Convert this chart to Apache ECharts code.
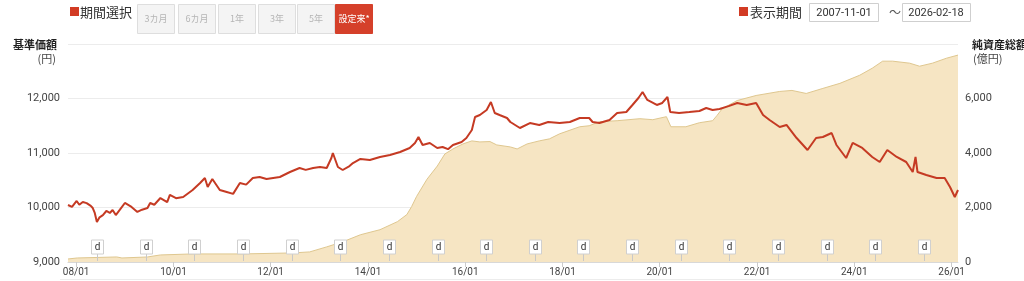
<!DOCTYPE html>
<html><head><meta charset="utf-8">
<script src="https://cdn.jsdelivr.net/npm/echarts@6/dist/echarts.min.js"></script>
<style>html,body{margin:0;padding:0;background:#fff;}#chart{width:1024px;height:281px;}</style>
</head><body><div id="chart"></div>
<script>
// 基準価額 (円)
const navData = [
['2007-11-01',10046],['2007-12-01',10010],['2008-01-05',10120],['2008-01-25',10050],['2008-02-20',10100],
['2008-03-20',10080],['2008-04-20',10030],['2008-05-05',9990],['2008-05-20',9900],['2008-06-05',9735],
['2008-06-25',9820],['2008-07-20',9860],['2008-08-15',9936],['2008-09-10',9900],['2008-10-01',9954],
['2008-10-25',9862],['2008-11-25',9960],['2009-01-01',10083],['2009-02-20',10010],['2009-04-05',9918],
['2009-05-10',9960],['2009-06-20',9990],['2009-07-10',10083],['2009-08-10',10050],['2009-09-25',10174],
['2009-11-15',10100],['2009-12-05',10230],['2010-01-20',10170],['2010-03-15',10193],['2010-05-25',10321],
['2010-07-20',10450],['2010-08-25',10541],['2010-09-15',10376],['2010-10-20',10523],['2010-12-15',10321],
['2011-02-05',10284],['2011-03-25',10250],['2011-05-15',10450],['2011-07-01',10420],['2011-08-20',10541],
['2011-10-10',10560],['2011-12-01',10523],['2012-03-10',10560],['2012-05-25',10651],['2012-08-05',10725],
['2012-09-20',10690],['2012-11-15',10725],['2013-01-05',10743],['2013-02-25',10725],['2013-04-01',10908],
['2013-04-12',11000],['2013-05-20',10743],['2013-06-25',10688],['2013-08-15',10761],['2013-09-10',10816],
['2013-11-05',10890],['2014-01-15',10871],['2014-04-01',10927],['2014-06-15',10963],['2014-08-30',11018],
['2014-11-10',11092],['2014-12-20',11184],['2015-01-15',11294],['2015-02-15',11147],['2015-04-10',11184],
['2015-06-05',11092],['2015-07-15',11110],['2015-08-25',11070],['2015-10-01',11147],['2015-12-05',11202],
['2016-01-10',11275],['2016-02-20',11422],['2016-03-15',11661],['2016-04-20',11697],['2016-06-10',11789],
['2016-07-12',11936],['2016-08-10',11734],['2016-09-15',11697],['2016-11-10',11642],['2016-12-05',11569],
['2017-02-15',11459],['2017-05-01',11550],['2017-07-10',11514],['2017-09-15',11569],['2017-12-10',11550],
['2018-02-25',11569],['2018-05-10',11642],['2018-07-20',11642],['2018-08-15',11569],['2018-10-05',11550],
['2018-12-20',11605],['2019-02-15',11734],['2019-04-25',11752],['2019-06-10',11881],['2019-07-25',12009],
['2019-08-25',12119],['2019-09-30',11973],['2019-12-10',11881],['2020-01-20',11918],['2020-02-28',12028],
['2020-03-20',11752],['2020-05-25',11734],['2020-08-10',11752],['2020-10-25',11771],['2020-12-15',11826],
['2021-02-01',11789],['2021-03-25',11808],['2021-06-01',11860],['2021-08-05',11918],['2021-10-15',11881],
['2021-12-25',11918],['2022-02-15',11697],['2022-04-05',11605],['2022-06-20',11477],['2022-08-10',11514],
['2022-10-25',11275],['2023-01-15',11055],['2023-03-20',11275],['2023-05-10',11294],['2023-07-15',11367],
['2023-08-20',11147],['2023-11-01',10908],['2023-12-20',11184],['2024-03-01',11092],['2024-05-15',10927],
['2024-07-10',10835],['2024-09-05',11055],['2024-11-15',10927],['2025-01-25',10835],['2025-03-15',10651],
['2025-04-05',10927],['2025-04-20',10651],['2025-06-25',10596],['2025-09-10',10541],['2025-11-10',10541],
['2025-12-20',10376],['2026-01-25',10193],['2026-02-18',10321]
];
// 純資産総額 (億円)
const aumData = [
['2007-11-01',111],['2008-01-10',148],['2008-11-01',185],['2008-12-10',148],['2009-06-20',185],
['2009-09-25',259],['2010-05-25',296],['2011-06-05',296],['2012-06-15',333],['2012-10-20',370],
['2013-02-25',555],['2013-06-25',740],['2013-11-05',1000],['2014-04-01',1185],['2014-08-10',1481],
['2014-10-20',1741],['2014-11-25',2037],['2015-01-01',2407],['2015-03-20',3037],['2015-06-05',3519],
['2015-08-01',3963],['2015-10-01',4148],['2015-12-15',4333],['2016-02-20',4444],['2016-04-20',4407],
['2016-07-05',4420],['2016-08-25',4296],['2016-12-05',4222],['2017-01-25',4148],['2017-04-10',4333],
['2017-07-10',4444],['2017-09-25',4519],['2017-12-10',4704],['2018-05-10',4963],['2018-07-20',5000],
['2018-10-05',5148],['2019-02-15',5185],['2019-08-05',5259],['2019-11-10',5222],['2020-02-20',5333],
['2020-03-25',4963],['2020-07-15',4963],['2020-10-25',5111],['2021-02-01',5185],['2021-03-05',5370],
['2021-04-15',5630],['2021-08-05',5926],['2021-12-25',6111],['2022-06-20',6259],['2022-09-20',6296],
['2023-01-05',6185],['2023-05-10',6370],['2023-09-15',6556],['2024-02-10',6852],['2024-05-15',7111],
['2024-08-01',7370],['2024-10-15',7370],['2025-02-20',7296],['2025-05-05',7185],['2025-08-10',7296],
['2025-11-25',7481],['2026-02-18',7593]
];
// x axis tick dates
const xTickDates = ['2008-01-01','2010-01-01','2012-01-01','2014-01-01','2016-01-01','2018-01-01','2020-01-01','2022-01-01','2024-01-01','2026-01-01'];
// 'd' markers
const markerDates = ['2008-06-07','2009-06-07','2010-06-07','2011-06-07','2012-06-07','2013-06-07','2014-06-07','2015-06-07','2016-06-07','2017-06-07','2018-06-07','2019-06-07','2020-06-07','2021-06-07','2022-06-07','2023-06-07','2024-06-07','2025-06-07'];
const periodButtons = ['3カ月','6カ月','1年','3年','5年','設定来*'];
const rangeStart = '2007-11-01';
const rangeEnd = '2026-02-18';

const ts = s => echarts.time.parse(s).getTime();
const JP = '"Noto Sans CJK JP", sans-serif';
const NUM = 'Roboto, "Noto Sans CJK JP", sans-serif';
const RED = '#d23b24';

const graphics = [];
graphics.push({type:'rect', shape:{x:70,y:7,width:9,height:9}, style:{fill:RED}});
graphics.push({type:'text', x:80, y:12, style:{text:'期間選択', font:'13px '+JP, fill:'#333', verticalAlign:'middle'}});
const btnX = [137,178,218,258,297,335];
periodButtons.forEach((t,i)=>{
  const active = i === periodButtons.length-1;
  graphics.push({type:'rect', shape:{x:btnX[i]+0.5,y:4.5,width:37,height:29}, style:{fill: active?'#d5402a':'#f4f4f4', stroke: active?'#d5402a':'#dedede', lineWidth:1}});
  graphics.push({type:'text', x:btnX[i]+19, y:19, style:{text:t, font:'9px '+JP, fill: active?'#fff':'#b5b5b5', align:'center', verticalAlign:'middle'}});
});
graphics.push({type:'rect', shape:{x:739,y:7,width:9,height:9}, style:{fill:RED}});
graphics.push({type:'text', x:750, y:12, style:{text:'表示期間', font:'13px '+JP, fill:'#333', verticalAlign:'middle'}});
graphics.push({type:'rect', shape:{x:809.5,y:3.5,width:69,height:18}, style:{fill:'#fff', stroke:'#cfcfcf', lineWidth:1}});
graphics.push({type:'text', x:844, y:13, style:{text:rangeStart, font:'11px '+NUM, fill:'#333', align:'center', verticalAlign:'middle'}});
graphics.push({type:'text', x:895, y:12, style:{text:'～', font:'12px '+JP, fill:'#555', align:'center', verticalAlign:'middle'}});
graphics.push({type:'rect', shape:{x:902.5,y:3.5,width:68,height:18}, style:{fill:'#fff', stroke:'#cfcfcf', lineWidth:1}});
graphics.push({type:'text', x:936, y:13, style:{text:rangeEnd, font:'11px '+NUM, fill:'#333', align:'center', verticalAlign:'middle'}});
graphics.push({type:'text', x:57, y:45, style:{text:'基準価額', font:'bold 11px '+JP, fill:'#222', align:'right', verticalAlign:'middle'}});
graphics.push({type:'text', x:56, y:59, style:{text:'(円)', font:'11px '+JP, fill:'#444', align:'right', verticalAlign:'middle'}});
graphics.push({type:'text', x:972, y:45, style:{text:'純資産総額', font:'bold 11px '+JP, fill:'#222', align:'left', verticalAlign:'middle'}});
graphics.push({type:'text', x:973, y:59, style:{text:'(億円)', font:'11px '+JP, fill:'#444', align:'left', verticalAlign:'middle'}});
graphics.push({type:'line', shape:{x1:60,y1:279.5,x2:960,y2:279.5}, style:{stroke:'#ececec', lineWidth:1}});

const toTs = arr => arr.map(([d,v]) => [ts(d), v]);
const tickTs = xTickDates.map(ts);

const chart = echarts.init(document.getElementById('chart'), null, {renderer:'canvas'});
chart.setOption({
  animation:false,
  backgroundColor:'#fff',
  grid:{left:68, right:66, top:44, bottom:19, containLabel:false},
  graphic:graphics,
  xAxis:{
    type:'value', min:ts(rangeStart), max:ts(rangeEnd), scale:true,
    axisLine:{show:true, lineStyle:{color:'#d8d8d8'}},
    axisTick:{show:true, length:5, lineStyle:{color:'#cccccc'}, customValues:tickTs},
    axisLabel:{show:true, color:'#444', fontSize:10, fontFamily:NUM, margin:5,
      customValues:tickTs, showMinLabel:true, showMaxLabel:true,
      formatter:v=>echarts.time.format(v,'{yy}/{MM}',false)},
    splitLine:{show:false}
  },
  yAxis:[
    {type:'value', min:9000, max:13000, interval:1000, position:'left',
     axisLine:{show:false}, axisTick:{show:false},
     axisLabel:{color:'#444', fontSize:11, fontFamily:NUM, margin:8, showMaxLabel:false},
     splitLine:{show:true, lineStyle:{color:'#ececec'}}},
    {type:'value', min:0, max:8000, interval:2000, position:'right',
     axisLine:{show:false}, axisTick:{show:false},
     axisLabel:{color:'#444', fontSize:11, fontFamily:NUM, margin:7, showMaxLabel:false},
     splitLine:{show:false}}
  ],
  series:[
    {name:'純資産総額', type:'line', yAxisIndex:1, data:toTs(aumData), showSymbol:false, symbol:'none',
     lineStyle:{color:'#dfc78f', width:1}, areaStyle:{color:'#f6e5c3', opacity:1}, z:1},
    {name:'基準価額', type:'line', yAxisIndex:0, data:toTs(navData), showSymbol:false, symbol:'none',
     lineStyle:{color:'#c53a23', width:2}, z:3},
    {name:'d', type:'custom', yAxisIndex:0, z:4, clip:false,
     data:markerDates.map(d=>[ts(d), 9000]),
     encode:{x:0, y:1},
     renderItem:(params, api)=>{
       const p = api.coord([api.value(0), api.value(1)]);
       const x = Math.round(p[0]) + 0.5;
       const by = Math.round(p[1]);
       return {type:'group', children:[
         {type:'line', shape:{x1:x, y1:by-1, x2:x, y2:by-8}, style:{stroke:'#c8c8c8', lineWidth:1}},
         {type:'rect', shape:{x:x-6, y:by-22, width:12, height:14}, style:{fill:'#fff', stroke:'#d0d0d0', lineWidth:1}},
         {type:'text', x:x, y:by-15, style:{text:'d', font:'10px '+NUM, fill:'#333', align:'center', verticalAlign:'middle'}}
       ]};
     }}
  ]
});
</script></body></html>
